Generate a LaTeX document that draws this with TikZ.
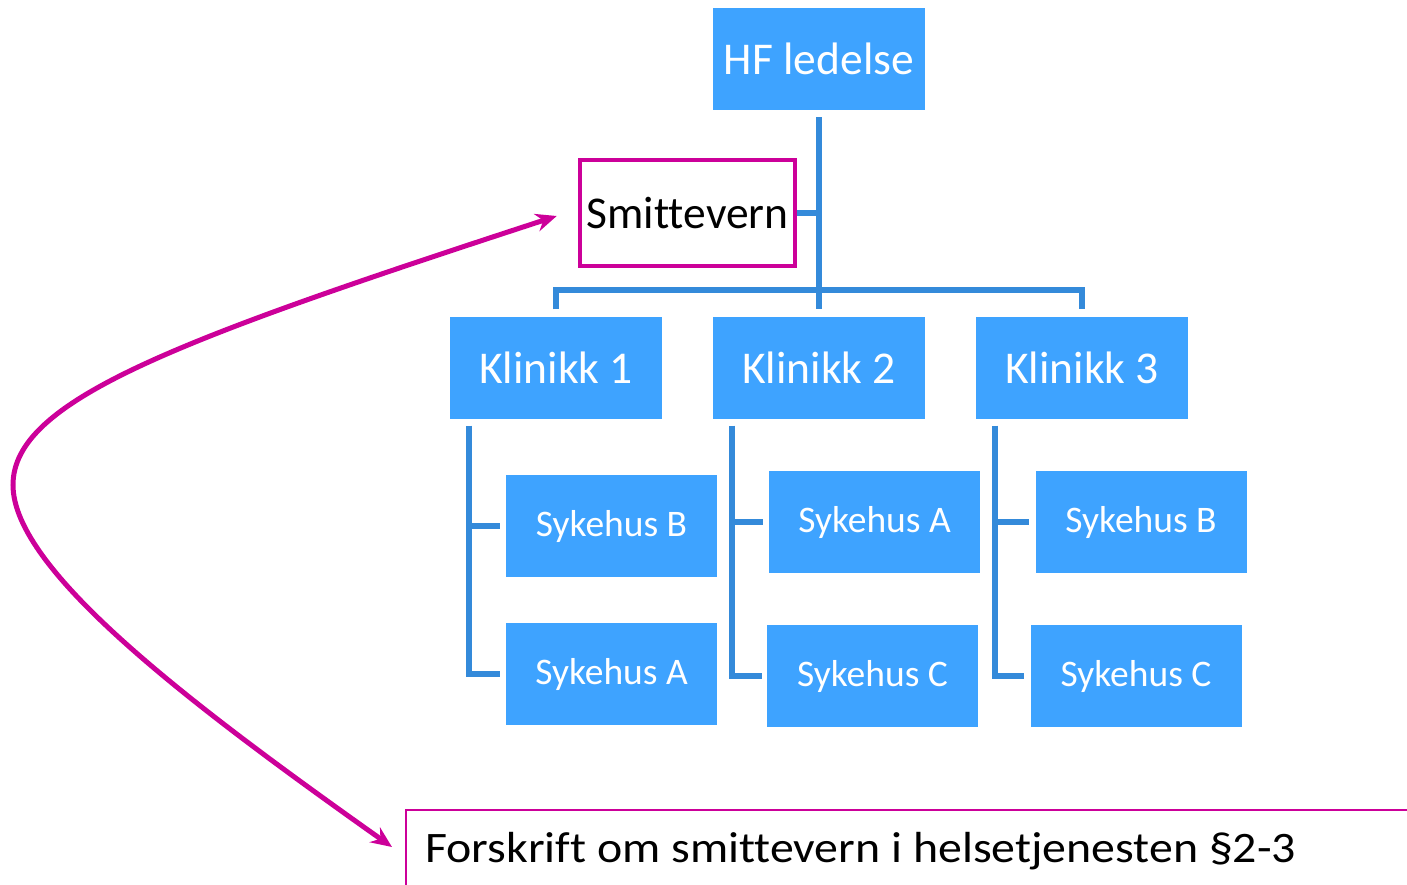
\documentclass[tikz,border=0pt]{standalone}
\usepackage{fontspec}
\setmainfont{Carlito}[Ligatures=NoCommon]
\usetikzlibrary{arrows.meta,calc}
\definecolor{boxblue}{RGB}{62,163,255}
\definecolor{connblue}{RGB}{52,138,218}
\definecolor{mag}{RGB}{204,0,153}
\begin{document}
\begin{tikzpicture}[x=1pt,y=-1pt,
  orgbox/.style={fill=boxblue, draw=none, text=white, minimum width=212pt, minimum height=102pt, inner sep=0pt, font=\fontsize{45.5}{50}\selectfont},
  subbox/.style={orgbox, minimum width=211pt, font=\fontsize{37.5}{42}\selectfont},
  conn/.style={draw=connblue, line width=6pt},
  magarrow/.style={draw=mag, line width=5pt, {Stealth[length=21pt,width=18pt]}-{Stealth[length=21pt,width=18pt]}}
]
\useasboundingbox (0,0) rectangle (1407,885);
% nodes
\node[orgbox] (hf) at (819,59) {HF ledelse};
\node[draw=mag, line width=4.5pt, fill=white, minimum width=215pt, minimum height=106pt, inner sep=0pt, font=\fontsize{45.5}{50}\selectfont] (smitte) at (687.5,213) {Smittevern};
\node[orgbox] (k1) at (556,367.5) {Klinikk 1};
\node[orgbox] (k2) at (819,367.5) {Klinikk 2};
\node[orgbox] (k3) at (1082,367.5) {Klinikk 3};
\node[subbox] (sb1) at (611.5,526) {Sykehus B};
\node[subbox] (sa1) at (611.5,674) {Sykehus A};
\node[subbox] (sa2) at (874.5,522) {Sykehus A};
\node[subbox] (sc2) at (872.5,676) {Sykehus C};
\node[subbox] (sb3) at (1141,522) {Sykehus B};
\node[subbox] (sc3) at (1136,676) {Sykehus C};
\node[draw=mag, line width=2pt, anchor=north west, minimum width=1100pt, minimum height=140pt, inner sep=0pt] (fbox) at (405,809) {};
\node[anchor=base west, inner sep=0pt, font=\fontsize{43.5}{50}\selectfont] (forskrift) at (425,862) {\scalebox{1.1}[1]{Forskrift om smittevern i helsetjenesten §2-3}};
% main connectors
\draw[conn] ([yshift=-7pt]hf.south) -- ([yshift=7pt]k2.north);
\draw[conn] ([yshift=7pt]k1.north) -- ++(0,-19) -| ([yshift=7pt]k3.north);
\draw[conn] (smitte.east) -- (smitte.east -| hf.south);
% sub connectors
\coordinate (k1l) at ([xshift=19pt,yshift=-7pt]k1.south west);
\coordinate (k2l) at ([xshift=19pt,yshift=-7pt]k2.south west);
\coordinate (k3l) at ([xshift=19pt,yshift=-7pt]k3.south west);
\draw[conn] (k1l) |- ([xshift=-6pt]sa1.west);
\draw[conn] (sb1.west -| k1l) -- ([xshift=-6pt]sb1.west);
\draw[conn] (k2l) |- ([xshift=-5pt]sc2.west);
\draw[conn] (sa2.west -| k2l) -- ([xshift=-6pt]sa2.west);
\draw[conn] (k3l) |- ([xshift=-6pt]sc3.west);
\draw[conn] (sb3.west -| k3l) -- ([xshift=-6pt]sb3.west);
% magenta curve
\draw[magarrow] ([xshift=-21pt,yshift=-3pt]smitte.west) .. controls (177,340) and (13,400) .. (13,485) .. controls (13,570) and (190,704) .. ([xshift=-13pt,yshift=-38pt]fbox.north west);
\end{tikzpicture}
\end{document}
